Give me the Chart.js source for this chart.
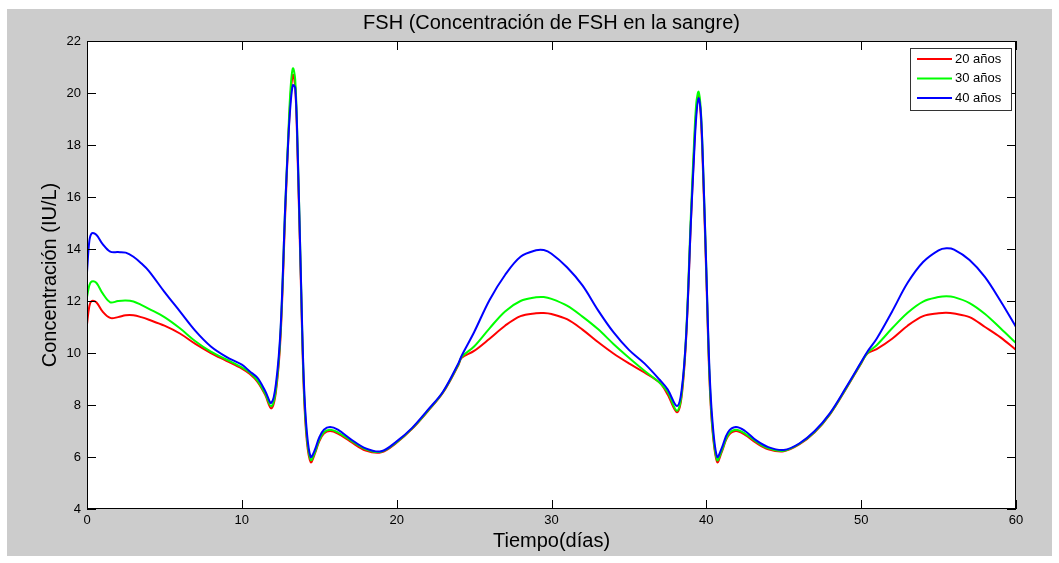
<!DOCTYPE html>
<html>
<head>
<meta charset="utf-8">
<script src="https://cdn.jsdelivr.net/npm/chart.js@4.4.1/dist/chart.umd.min.js"></script>
<style>
  html, body { margin: 0; padding: 0; background: #fff; }
  #wrap { width: 1059px; height: 563px; }
</style>
</head>
<body>
<div id="wrap"><canvas id="fsh" width="1059" height="563"></canvas></div>
<script>
// tiempo en días (eje x)
const dias = [0, 0.15, 0.3, 0.6, 1, 1.5, 2, 2.5, 3, 3.5, 4, 5, 6, 7, 8, 9, 10, 10.5, 11, 11.5,
  11.9, 12.2, 12.5, 12.8, 13, 13.15, 13.3, 13.45, 13.6, 13.8, 14, 14.2, 14.45, 14.7, 15,
  15.3, 15.7, 16.2, 17, 18, 19, 20, 21, 22, 23, 24, 24.2, 25, 26, 27, 28, 29, 29.5, 30, 31,
  32, 33, 34, 35, 36, 37, 37.5, 38.1, 38.4, 38.7, 39, 39.2, 39.35, 39.5, 39.65,
  39.8, 40, 40.2, 40.4, 40.7, 41, 41.4, 41.9, 42.5, 43.2, 44, 45, 46, 47, 48,
  49, 50, 50.4, 51, 52, 53, 54, 55, 55.5, 56, 57, 58, 59, 60];

const fsh20 = [11.1, 11.8, 12.0, 11.95, 11.6, 11.35, 11.38, 11.45, 11.45, 11.38,
  11.28, 11.05, 10.75, 10.35, 10.0, 9.7, 9.4, 9.2, 8.9, 8.4,
  7.87, 8.5, 10.6, 15.3, 18.2, 19.9, 20.7, 20.2, 17.6, 13.0,
  8.6, 6.6, 5.8, 6.1, 6.6, 6.9, 7.0, 6.9, 6.6, 6.25,
  6.18, 6.55, 7.08, 7.75, 8.48, 9.55, 9.82, 10.08, 10.55, 11.05,
  11.42, 11.53, 11.54, 11.5, 11.3, 10.9, 10.42, 9.98, 9.6, 9.25,
  8.85, 8.4, 7.72, 8.3, 10.6, 15.0, 17.7, 19.3, 19.9, 19.0,
  16.7, 12.9, 9.0, 7.0, 5.8, 6.2, 6.8, 7.0, 6.85, 6.55,
  6.3, 6.22, 6.48, 6.95, 7.65, 8.6, 9.6, 9.98, 10.15, 10.55,
  11.05, 11.42, 11.53, 11.55, 11.52, 11.38, 11.0, 10.6, 10.12];

const fsh30 = [12.15, 12.6, 12.75, 12.7, 12.3, 11.95, 12.0, 12.02, 11.98, 11.85,
  11.7, 11.38, 10.95, 10.45, 10.05, 9.75, 9.45, 9.25, 8.95, 8.45,
  7.95, 8.6, 10.8, 15.6, 18.4, 20.2, 20.95, 20.5, 18.0, 13.3,
  8.8, 6.75, 5.88, 6.15, 6.65, 6.95, 7.05, 6.95, 6.65, 6.3,
  6.2, 6.57, 7.1, 7.77, 8.5, 9.58, 9.85, 10.25, 10.95, 11.6,
  12.0, 12.14, 12.15, 12.08, 11.82, 11.4, 10.92, 10.35, 9.82, 9.32,
  8.85, 8.5, 7.78, 8.4, 10.8, 15.3, 18.0, 19.6, 20.05, 19.3,
  17.0, 13.2, 9.2, 7.1, 5.88, 6.25, 6.85, 7.05, 6.9, 6.6,
  6.33, 6.24, 6.5, 6.97, 7.67, 8.62, 9.62, 10.0, 10.3, 10.95,
  11.55, 11.98, 12.15, 12.18, 12.15, 11.92, 11.5, 10.95, 10.38];

const fsh40 = [13.1, 14.3, 14.6, 14.55, 14.2, 13.9, 13.88, 13.86, 13.7, 13.45,
  13.15, 12.35, 11.6, 10.85, 10.25, 9.85, 9.55, 9.3, 9.05, 8.55,
  8.08, 8.8, 10.9, 15.6, 18.2, 19.6, 20.3, 20.2, 17.9, 13.3,
  9.0, 6.95, 6.0, 6.25, 6.75, 7.05, 7.15, 7.05, 6.7, 6.33,
  6.22, 6.6, 7.12, 7.8, 8.52, 9.62, 9.9, 10.8, 12.04, 13.0,
  13.7, 13.95, 13.96, 13.82, 13.3, 12.6, 11.65, 10.8, 10.12, 9.6,
  8.96, 8.6, 7.96, 8.55, 10.7, 15.0, 17.5, 19.1, 19.8, 19.2,
  17.0, 13.2, 9.4, 7.35, 6.0, 6.35, 6.95, 7.15, 7.0, 6.65,
  6.38, 6.27, 6.52, 7.0, 7.7, 8.65, 9.65, 10.05, 10.55, 11.6,
  12.7, 13.5, 13.95, 14.03, 13.98, 13.58, 12.92, 12.0, 11.0];

const etiquetas = ['20 años', '30 años', '40 años'];
const colores = ['#ff0000', '#00ff00', '#0000ff'];

const pts = (vals) => dias.map((d, i) => ({ x: d, y: vals[i] }));

Chart.defaults.font.family = '"Liberation Sans", Arial, Helvetica, sans-serif';
Chart.defaults.color = '#000';

// fondo gris estilo MATLAB, área blanca
const fondo = {
  id: 'fondo',
  beforeDraw(chart) {
    const { ctx, chartArea: a } = chart;
    ctx.save();
    ctx.fillStyle = '#ffffff';
    ctx.fillRect(0, 0, chart.width, chart.height);
    ctx.fillStyle = '#cccccc';
    ctx.fillRect(7, 9, 1045, 547);
    ctx.fillStyle = '#ffffff';
    ctx.fillRect(a.left, a.top, a.right - a.left, a.bottom - a.top);
    ctx.restore();
  }
};

// caja + marcas hacia dentro + leyenda
const caja = {
  id: 'caja',
  afterDatasetsDraw(chart) {
    const { ctx, chartArea: a, scales } = chart;
    ctx.save();
    ctx.strokeStyle = '#000';
    ctx.lineWidth = 1;
    ctx.beginPath();
    scales.x.ticks.forEach(t => {
      const px = Math.round(scales.x.getPixelForValue(t.value)) + 0.5;
      ctx.moveTo(px, a.bottom); ctx.lineTo(px, a.bottom - 9);
      ctx.moveTo(px, a.top); ctx.lineTo(px, a.top + 9);
    });
    scales.y.ticks.forEach(t => {
      const py = Math.round(scales.y.getPixelForValue(t.value)) + 0.5;
      ctx.moveTo(a.left, py); ctx.lineTo(a.left + 9, py);
      ctx.moveTo(a.right, py); ctx.lineTo(a.right - 9, py);
    });
    ctx.stroke();
    ctx.strokeRect(a.left + 0.5, a.top + 0.5, a.right - a.left - 1, a.bottom - a.top - 1);

    // leyenda
    const lx = 910, ly = 48, lw = 101, lh = 62;
    ctx.fillStyle = '#fff';
    ctx.fillRect(lx, ly, lw, lh);
    ctx.strokeStyle = '#333';
    ctx.strokeRect(lx + 0.5, ly + 0.5, lw, lh);
    ctx.font = '13px "Liberation Sans", Arial, sans-serif';
    ctx.textBaseline = 'middle';
    etiquetas.forEach((txt, i) => {
      const y = 59 + i * 19.5;
      ctx.strokeStyle = colores[i];
      ctx.lineWidth = 2;
      ctx.beginPath();
      ctx.moveTo(917, y); ctx.lineTo(952, y);
      ctx.stroke();
      ctx.fillStyle = '#000';
      ctx.fillText(txt, 955, y);
    });
    ctx.restore();
  }
};

new Chart(document.getElementById('fsh'), {
  type: 'line',
  data: {
    datasets: [
      { label: etiquetas[0], data: pts(fsh20), borderColor: colores[0], order: 3 },
      { label: etiquetas[1], data: pts(fsh30), borderColor: colores[1], order: 2 },
      { label: etiquetas[2], data: pts(fsh40), borderColor: colores[2], order: 1 }
    ]
  },
  options: {
    responsive: false,
    animation: false,
    devicePixelRatio: 1,
    layout: { padding: { left: 0, right: 43, top: 0, bottom: 0 } },
    elements: {
      point: { radius: 0 },
      line: { borderWidth: 2, tension: 0.35, fill: false }
    },
    plugins: {
      legend: { display: false },
      tooltip: { enabled: false },
      title: {
        display: true,
        fullSize: false,
        text: 'FSH (Concentración de FSH en la sangre)',
        color: '#000',
        font: { size: 20, weight: 'normal' },
        padding: { top: 11, bottom: 6 }
      }
    },
    scales: {
      x: {
        type: 'linear', min: 0, max: 60,
        grid: { display: false, drawTicks: false },
        border: { display: false },
        ticks: { stepSize: 10, padding: 4, font: { size: 13 }, maxRotation: 0 },
        title: { display: true, text: 'Tiempo(días)', font: { size: 20 }, padding: { bottom: 10 } },
        afterFit: (s) => { s.height = 54; }
      },
      y: {
        min: 4, max: 22,
        grid: { display: false, drawTicks: false },
        border: { display: false },
        ticks: { stepSize: 2, padding: 6, font: { size: 13 } },
        title: { display: true, text: 'Concentración (IU/L)', font: { size: 20 }, padding: { top: 38 } },
        afterFit: (s) => { s.width = 87; }
      }
    }
  },
  plugins: [fondo, caja]
});
</script>
</body>
</html>
